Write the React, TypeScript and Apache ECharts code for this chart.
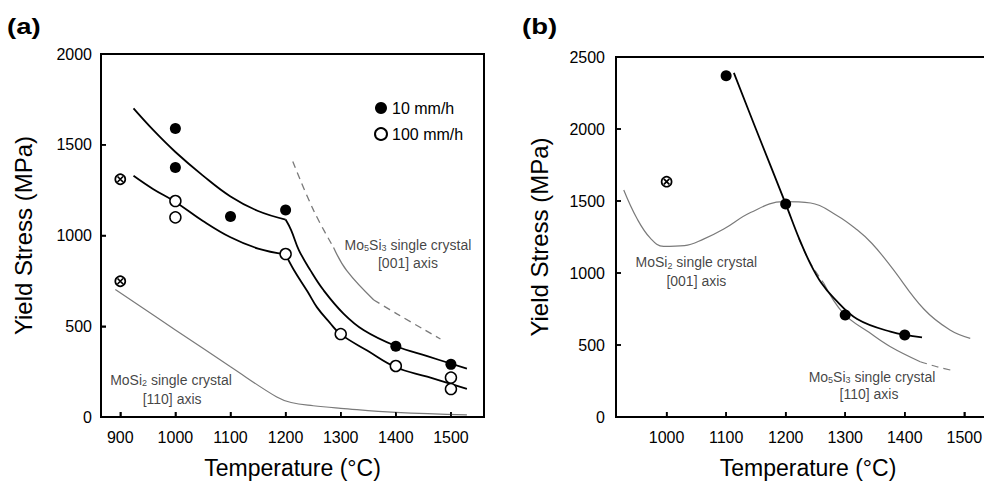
import React, { useEffect, useRef } from 'react';
import * as echarts from 'echarts';

const FONT = '"Liberation Sans", Arial, Helvetica, sans-serif';

// ---------- Panel (a) ----------
const xTicksA = [900, 1000, 1100, 1200, 1300, 1400, 1500];
const yTicksA = [500, 1000, 1500];
const filledA = [[1000, 1590], [1000, 1375], [1100, 1105], [1200, 1140], [1400, 390], [1500, 290]];
const openA = [[1000, 1190], [1000, 1100], [1200, 898], [1300, 457], [1400, 281], [1500, 217], [1500, 154]];
const crossedA = [[900, 1310], [900, 748]];
const fitFastA1 = [[924, 1700], [960, 1580], [1000, 1460], [1050, 1330], [1100, 1215], [1150, 1135], [1200, 1088]];
const fitFastA2 = [[1200, 1088], [1210, 1030], [1224, 920], [1245, 808], [1269, 698], [1305, 570], [1342, 478], [1400, 391], [1457, 335], [1529, 267]];
const fitSlowA1 = [[924, 1329], [960, 1255], [1000, 1185], [1050, 1080], [1100, 990], [1150, 928], [1200, 896]];
const fitSlowA2 = [[1200, 896], [1215, 810], [1240, 690], [1257, 604], [1280, 520], [1299, 458], [1348, 366], [1400, 274], [1457, 222], [1529, 155]];
const mosi2_110 = [[891, 702], [1000, 480], [1100, 277], [1184, 110], [1210, 80], [1250, 62], [1300, 48], [1400, 25], [1529, 12]];
const mo5si3_001_d1 = [[1213, 1408], [1251, 1137], [1287, 934]];
const mo5si3_001_s = [[1287, 934], [1311, 806], [1360, 645]];
const mo5si3_001_d2 = [[1360, 645], [1402, 568], [1481, 430]];

// ---------- Panel (b) ----------
const xTicksB = [1000, 1100, 1200, 1300, 1400, 1500];
const yTicksB = [500, 1000, 1500, 2000];
const filledB = [[1100, 2370], [1200, 1479], [1300, 708], [1400, 569]];
const crossedB = [[1000, 1634]];
const fitB = [[1113, 2390], [1150, 2000], [1200, 1480], [1223, 1235], [1242, 1060], [1260, 930], [1281, 825], [1320, 680], [1376, 593], [1429, 553]];
const mosi2_001 = [[928, 1576], [950, 1380], [973, 1240], [995, 1185], [1030, 1190], [1062, 1235], [1096, 1305], [1141, 1420], [1196, 1495], [1242, 1486], [1286, 1400], [1320, 1300], [1345, 1205], [1376, 1050], [1432, 750], [1476, 604], [1510, 546]];
const mo5si3_110_d1 = [[1222, 1240], [1240, 1080], [1264, 928]];
const mo5si3_110_s = [[1264, 928], [1297, 720], [1340, 588], [1376, 488], [1426, 384]];
const mo5si3_110_d2 = [[1426, 384], [1454, 349], [1482, 321]];

// ---------- Texts ----------
const legendNames = ['10 mm/h', '100 mm/h'];
const xTitle = 'Temperature (°C)';
const yTitle = 'Yield Stress (MPa)';
const annotA = [
  { at: [1422, 948], text: 'Mo{s|5}Si{s|3} single crystal' },
  { at: [1422, 848], text: '[001] axis' },
  { at: [992, 204], text: 'MoSi{s|2} single crystal' },
  { at: [994, 99], text: '[110] axis' },
];
const annotB = [
  { at: [1050, 1074], text: 'MoSi{s|2} single crystal' },
  { at: [1050, 944], text: '[001] axis' },
  { at: [1345, 280], text: 'Mo{s|5}Si{s|3} single crystal' },
  { at: [1340, 158], text: '[110] axis' },
];

const BLACK = '#000';
const GRAY = '#7a7a7a';
const TICK_LEN = 5;
const TICK_W = 1.5;
const X_MIN = [865, 915];

function lineSeries(data: number[][], idx: number, color: string, width: number, dashed = false) {
  return {
    type: 'line',
    xAxisIndex: idx,
    yAxisIndex: idx,
    data,
    showSymbol: false,
    symbol: 'none',
    smooth: 0.4,
    silent: true,
    z: 2,
    lineStyle: { color, width, type: dashed ? [7, 5] : 'solid', opacity: 1 },
    emphasis: { disabled: true },
  };
}

function scatterSeries(name: string, data: number[][], idx: number, filled: boolean) {
  return {
    type: 'scatter',
    name,
    xAxisIndex: idx,
    yAxisIndex: idx,
    data,
    symbol: 'circle',
    symbolSize: 11,
    z: 5,
    silent: true,
    itemStyle: filled
      ? { color: BLACK, borderColor: BLACK, borderWidth: 0, opacity: 1 }
      : { color: '#fff', borderColor: BLACK, borderWidth: 1.5, opacity: 1 },
    emphasis: { disabled: true },
  };
}

function crossedSeries(data: number[][], idx: number) {
  return [
    {
      type: 'scatter',
      xAxisIndex: idx,
      yAxisIndex: idx,
      data,
      symbol: 'circle',
      symbolSize: 10,
      z: 5,
      silent: true,
      itemStyle: { color: '#fff', borderColor: BLACK, borderWidth: 1.7, opacity: 1 },
      emphasis: { disabled: true },
    },
    {
      type: 'scatter',
      xAxisIndex: idx,
      yAxisIndex: idx,
      data,
      symbol: 'path://M0,0L10,10M10,0L0,10',
      symbolSize: 5.5,
      z: 6,
      silent: true,
      itemStyle: { color: 'none', borderColor: BLACK, borderWidth: 1.7, opacity: 1 },
      emphasis: { disabled: true },
    },
  ];
}

function annotSeries(items: { at: number[]; text: string }[], idx: number) {
  return {
    type: 'scatter',
    xAxisIndex: idx,
    yAxisIndex: idx,
    symbolSize: 1,
    silent: true,
    z: 7,
    itemStyle: { color: 'transparent' },
    emphasis: { disabled: true },
    data: items.map((it) => ({
      value: it.at,
      label: {
        show: true,
        position: 'inside',
        formatter: it.text,
        fontSize: 14,
        color: '#111',
        fontFamily: FONT,
        lineHeight: 16,
        rich: {
          s: { fontSize: 9, lineHeight: 9, verticalAlign: 'bottom', color: '#111', fontFamily: FONT },
        },
      },
    })),
  };
}

const plain = (v: number) => String(v);

function xAxisCfg(idx: number, min: number, max: number, ticks: number[]) {
  return {
    gridIndex: idx,
    type: 'value',
    min,
    max,
    axisLine: { show: true, onZero: false, lineStyle: { color: BLACK, width: 2 } },
    axisTick: { show: true, inside: true, length: TICK_LEN, customValues: ticks, lineStyle: { color: BLACK, width: TICK_W } },
    axisLabel: { customValues: ticks, formatter: plain, fontSize: 16, color: BLACK, margin: 12, fontFamily: FONT },
    splitLine: { show: false },
    name: xTitle,
    nameLocation: 'middle',
    nameGap: 39,
    nameTextStyle: { fontSize: 23, color: BLACK, fontFamily: FONT },
  };
}

function yAxisCfg(idx: number, max: number, margin: number, gap: number) {
  return {
    gridIndex: idx,
    type: 'value',
    min: 0,
    max,
    interval: 500,
    axisLine: { show: true, onZero: false, lineStyle: { color: BLACK, width: 2 } },
    axisTick: { show: true, inside: true, length: TICK_LEN, lineStyle: { color: BLACK, width: TICK_W } },
    axisLabel: { formatter: plain, fontSize: 16, color: BLACK, margin, fontFamily: FONT },
    splitLine: { show: false },
    name: yTitle,
    nameLocation: 'middle',
    nameGap: gap,
    nameTextStyle: { fontSize: 24, color: BLACK, fontFamily: FONT },
  };
}

const panelLabels = [
  { type: 'text', x: 7, y: 26, scaleX: 1.25, style: { text: '(a)', fontSize: 22, fontWeight: 'bold', fontFamily: FONT, fill: BLACK, verticalAlign: 'middle' } },
  { type: 'text', x: 522, y: 26, scaleX: 1.25, style: { text: '(b)', fontSize: 22, fontWeight: 'bold', fontFamily: FONT, fill: BLACK, verticalAlign: 'middle' } },
];

export default function App() {
  const ref = useRef<HTMLDivElement>(null);
  useEffect(() => {
    if (!ref.current) return;
    const chart = echarts.init(ref.current, null, { renderer: 'svg' });
    const option: any = {
      animation: false,
      backgroundColor: '#fff',
      textStyle: { fontFamily: FONT },
      grid: [
        { left: 101, top: 54, width: 383, height: 363, show: true, borderColor: BLACK, borderWidth: 2, backgroundColor: 'transparent', outerBoundsMode: 'none', containLabel: false },
        { left: 616, top: 57, width: 384, height: 360, show: true, borderColor: BLACK, borderWidth: 2, backgroundColor: 'transparent', outerBoundsMode: 'none', containLabel: false },
      ],
      xAxis: [xAxisCfg(0, X_MIN[0], 1560, xTicksA), xAxisCfg(1, X_MIN[1], 1560, xTicksB)],
      yAxis: [yAxisCfg(0, 2000, 9, 66), yAxisCfg(1, 2500, 11, 65)],
      legend: {
        data: legendNames,
        orient: 'vertical',
        left: 369,
        top: 95,
        itemWidth: 12,
        itemHeight: 12,
        itemGap: 10,
        icon: 'circle',
        selectedMode: false,
        textStyle: { fontSize: 16, color: BLACK, fontFamily: FONT },
      },
      graphic: panelLabels,
      series: [
        // panel a
        lineSeries(mosi2_110, 0, GRAY, 1.2),
        lineSeries(mo5si3_001_d1, 0, GRAY, 1.3, true),
        lineSeries(mo5si3_001_s, 0, GRAY, 1.3),
        lineSeries(mo5si3_001_d2, 0, GRAY, 1.3, true),
        lineSeries(fitFastA1, 0, BLACK, 1.8),
        lineSeries(fitFastA2, 0, BLACK, 1.8),
        lineSeries(fitSlowA1, 0, BLACK, 1.8),
        lineSeries(fitSlowA2, 0, BLACK, 1.8),
        scatterSeries(legendNames[0], filledA, 0, true),
        scatterSeries(legendNames[1], openA, 0, false),
        ...crossedSeries(crossedA, 0),
        annotSeries(annotA, 0),
        // panel b
        lineSeries(mosi2_001, 1, GRAY, 1.2),
        lineSeries(mo5si3_110_d1, 1, GRAY, 1.2, true),
        lineSeries(mo5si3_110_s, 1, GRAY, 1.2),
        lineSeries(mo5si3_110_d2, 1, GRAY, 1.2, true),
        lineSeries(fitB, 1, BLACK, 1.8),
        scatterSeries('b-' + legendNames[0], filledB, 1, true),
        ...crossedSeries(crossedB, 1),
        annotSeries(annotB, 1),
      ],
    };
    chart.setOption(option);

    // Inward tick marks, placed with the chart's own scales (convertToPixel).
    const tickEls: any[] = [];
    const addTicks = (gridIndex: number, xTicks: number[], yTicks: number[]) => {
      xTicks.forEach((t) => {
        const p = chart.convertToPixel({ gridIndex }, [t, 0]) as number[];
        if (!p) return;
        tickEls.push({
          type: 'rect',
          z: 100,
          silent: true,
          shape: { x: p[0] - TICK_W / 2, y: p[1] - TICK_LEN, width: TICK_W, height: TICK_LEN },
          style: { fill: BLACK },
        });
      });
      yTicks.forEach((v) => {
        const p = chart.convertToPixel({ gridIndex }, [X_MIN[gridIndex], v]) as number[];
        if (!p) return;
        tickEls.push({
          type: 'rect',
          z: 100,
          silent: true,
          shape: { x: p[0], y: p[1] - TICK_W / 2, width: TICK_LEN, height: TICK_W },
          style: { fill: BLACK },
        });
      });
    };
    addTicks(0, xTicksA, yTicksA);
    addTicks(1, xTicksB, yTicksB);
    chart.setOption({ graphic: [...panelLabels, ...tickEls] });

    return () => chart.dispose();
  }, []);
  return (
    <div
      ref={ref}
      style={{ position: 'fixed', left: 0, top: 0, width: 984, height: 481, overflow: 'hidden', background: '#fff' }}
    />
  );
}
